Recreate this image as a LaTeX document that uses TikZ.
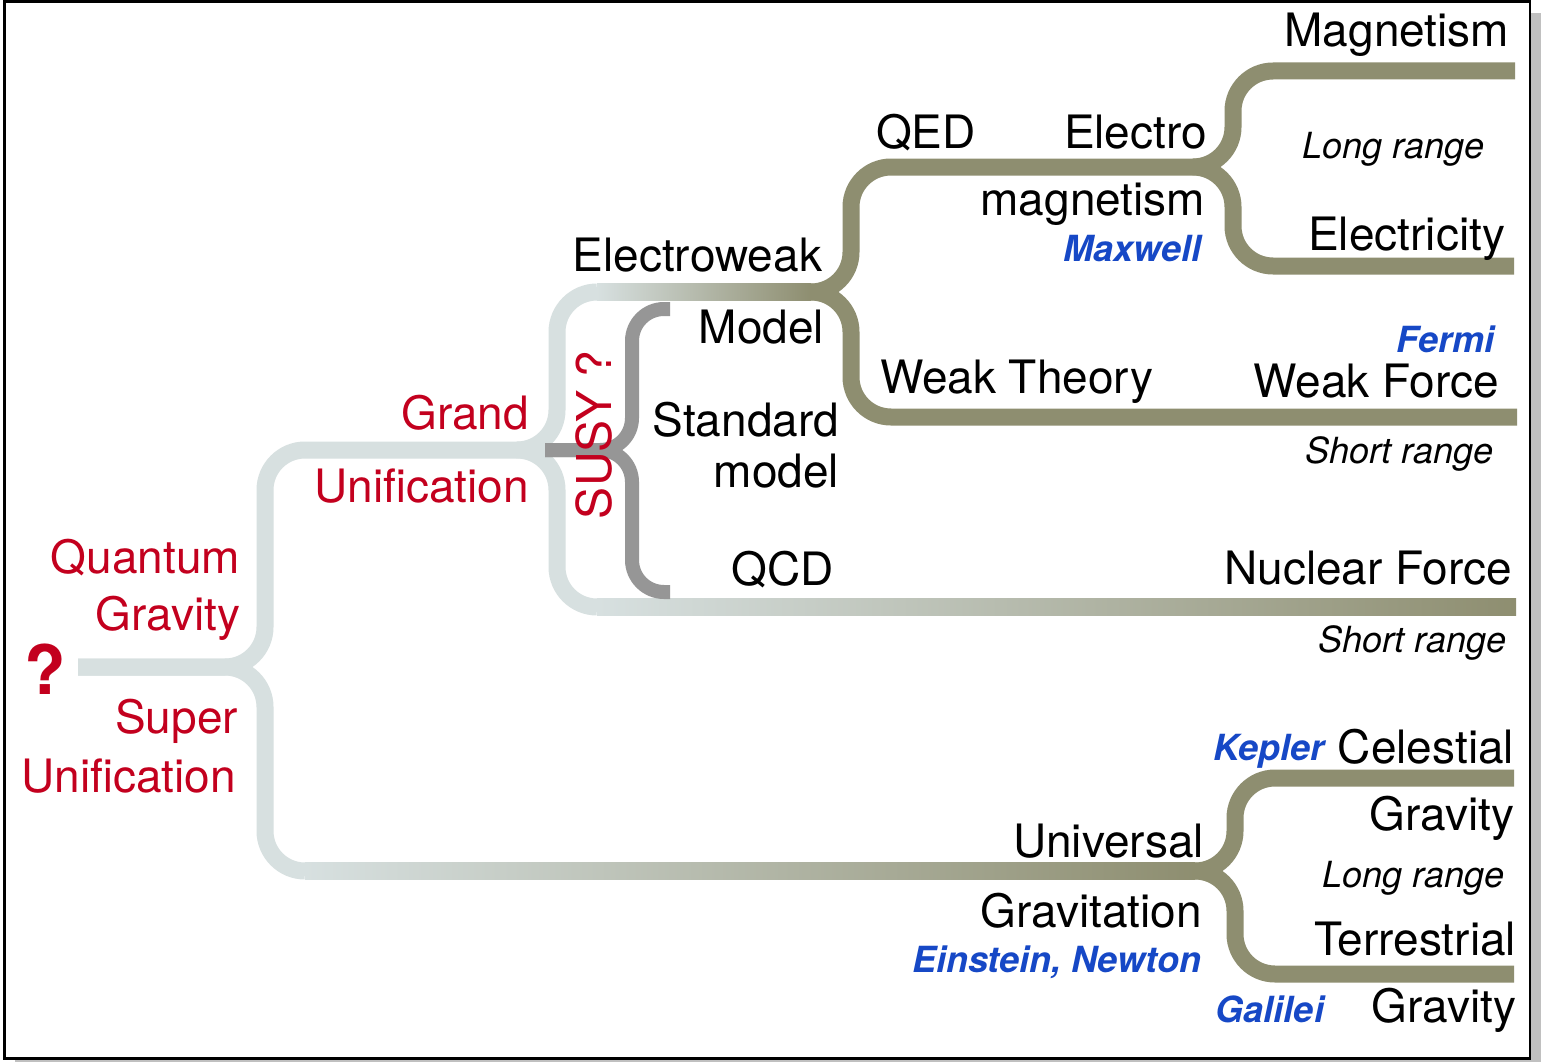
\documentclass[tikz,border=0pt]{standalone}
\usepackage{fontspec}
\setmainfont{TeX Gyre Heros}
\definecolor{brLight}{RGB}{215,224,224}
\definecolor{brOlive}{RGB}{142,142,112}
\definecolor{brDark}{RGB}{150,150,150}
\definecolor{inkRed}{RGB}{195,0,30}
\definecolor{inkBlue}{RGB}{22,72,198}
\definecolor{frameShadow}{RGB}{192,192,192}
\begin{document}
\begin{tikzpicture}[x=1pt,y=-1pt,
  liteline/.style={line width=17pt, draw=brLight, rounded corners=40pt},
  oliveline/.style={line width=17pt, draw=brOlive, rounded corners=40pt},
  darkline/.style={line width=14pt, draw=brDark, rounded corners=32pt},
  term/.style={inner sep=0pt, outer sep=0pt, font=\fontsize{46}{50}\selectfont},
  redterm/.style={term, text=inkRed},
  reach/.style={inner sep=0pt, outer sep=0pt, font=\fontsize{36}{40}\selectfont\itshape},
  who/.style={inner sep=0pt, outer sep=0pt, text=inkBlue, font=\fontsize{36}{40}\selectfont\bfseries\itshape}]
\useasboundingbox (0,0) rectangle (1541,1062);

% framed sheet with drop shadow
\fill[frameShadow] (15,13) rectangle (1541,1062);
\draw[line width=2.8pt, fill=white] (4.2,1.5) rectangle (1530,1058.5);

% branch points and free ends
\coordinate (q0) at (78,667);
\coordinate (b1) at (265,667);
\coordinate (g0) at (517,450);
\coordinate (b2) at (557,450);
\coordinate (ewL) at (597,292);
\coordinate (nuL) at (597,607);
\coordinate (ugL) at (305,871);
\coordinate (ew0) at (811,292);
\coordinate (b3) at (851,292);
\coordinate (em0) at (1193,167);
\coordinate (b4) at (1233,167);
\coordinate (gr0) at (1195,871);
\coordinate (b5) at (1235,871);
\coordinate (s0) at (545,450);
\coordinate (bS) at (632,450);
\coordinate (sTop) at (670,309);
\coordinate (sBot) at (670,592);
\coordinate (eMag) at (1515,71);
\coordinate (eEle) at (1514,266);
\coordinate (eWeak) at (1517,417);
\coordinate (eNuc) at (1516,607);
\coordinate (eCel) at (1514,778);
\coordinate (eTer) at (1514,974);

% unification tree, light part
\draw[liteline] (q0) -- (b1) |- (g0);
\draw[liteline] (q0) -- (b1) |- (ugL);
\draw[liteline] (g0) -- (b2) |- (ewL);
\draw[liteline] (g0) -- (b2) |- (nuL);

% fading runs
\shade[left color=brLight, right color=brOlive] (ewL) ++(0,-8.5) rectangle ([yshift=-8.5pt]ew0);
\shade[left color=brLight, right color=brOlive] (nuL) ++(0,-8.5) rectangle ([yshift=-8.5pt]eNuc);
\shade[left color=brLight, right color=brOlive] (ugL) ++(0,-8.5) rectangle ([yshift=-8.5pt]gr0);

% olive branches
\draw[oliveline] (ew0) -- (b3) |- (em0);
\draw[oliveline] (ew0) -- (b3) |- (eWeak);
\draw[oliveline] (em0) -- (b4) |- (eMag);
\draw[oliveline] (em0) -- (b4) |- (eEle);
\draw[oliveline] (gr0) -- (b5) |- (eCel);
\draw[oliveline] (gr0) -- (b5) |- (eTer);

% standard model bracket
\draw[darkline] (s0) -- (bS) |- (sTop);
\draw[darkline] (s0) -- (bS) |- (sBot);

% labels
\node[term, anchor=base east] (magnetism) at (1509,47) {Magnetism};
\node[reach, anchor=base east] (lr1) at (1484,158) {Long range};
\node[term, anchor=base east] (electricity) at (1505,250) {Electricity};
\node[term, anchor=base west] (qed) at (876,148) {QED};
\node[term, anchor=base east] (electro) at (1207,148) {Electro};
\node[term, anchor=base east] (magn2) at (1205,215) {magnetism};
\node[who, anchor=base east] (maxwell) at (1201,261) {Maxwell};
\node[term, anchor=base east] (electroweak) at (822,271) {Electroweak};
\node[term, anchor=base east] (model) at (824,343) {Model};
\node[term, anchor=base east] (standard) at (839,436) {Standard};
\node[term, anchor=base east] (model2) at (839,487) {model};
\node[term, anchor=base east] (qcd) at (834,585) {QCD};
\node[term, anchor=base west] (weaktheory) at (880,393) {Weak Theory};
\node[who, anchor=base east] (fermi) at (1494,352) {Fermi};
\node[term, anchor=base east] (weakforce) at (1499,397) {Weak Force};
\node[reach, anchor=base east] (sr1) at (1493,463) {Short range};
\node[term, anchor=base east] (nuclear) at (1512,584) {Nuclear Force};
\node[reach, anchor=base east] (sr2) at (1506,652) {Short range};
\node[who, anchor=base east] (kepler) at (1324,760) {Kepler};
\node[term, anchor=base east] (celestial) at (1514,763) {Celestial};
\node[term, anchor=base east] (grav1) at (1514,830) {Gravity};
\node[reach, anchor=base east] (lr2) at (1504,887) {Long range};
\node[term, anchor=base east] (terrestrial) at (1516,955) {Terrestrial};
\node[who, anchor=base east] (galilei) at (1324,1022) {Galilei};
\node[term, anchor=base east] (grav2) at (1516,1022) {Gravity};
\node[term, anchor=base east] (universal) at (1204,857) {Universal};
\node[term, anchor=base east] (gravitation) at (1202,927) {Gravitation};
\node[who, anchor=base east] (einstein) at (1201,972) {Einstein, Newton};
\node[redterm, anchor=base east] (grand) at (529,429) {Grand};
\node[redterm, anchor=base east] (unif1) at (529,502) {Unification};
\node[redterm, anchor=base east] (quantum) at (240,573) {Quantum};
\node[redterm, anchor=base east] (gravq) at (240,630) {Gravity};
\node[redterm, anchor=base east] (super) at (238,733) {Super};
\node[redterm, anchor=base east] (unif2) at (236,792) {Unification};
\node[inner sep=0pt, text=inkRed, font=\fontsize{68}{70}\selectfont\bfseries, anchor=base west] (qmark) at (24,694) {?};
\node[redterm, font=\fontsize{48}{50}\selectfont, rotate=90, anchor=base west] (susy) at (611,519) {SUSY ?};
\end{tikzpicture}
\end{document}
